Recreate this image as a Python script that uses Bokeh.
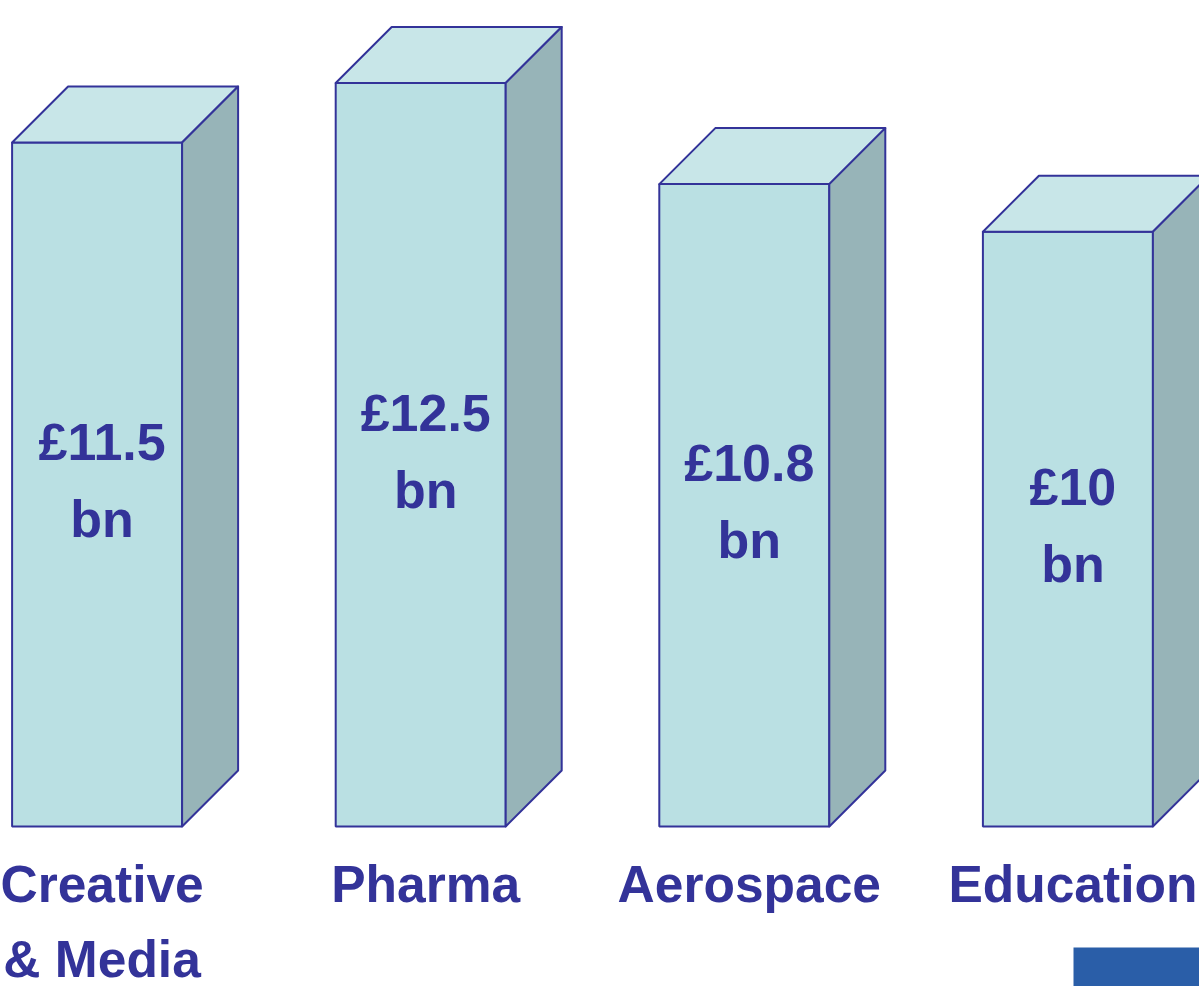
from bokeh.plotting import figure
from bokeh.models import Range1d, ColumnDataSource
from bokeh.core.properties import value
from bokeh.embed import file_html
from bokeh.resources import INLINE

# ---- data ----
categories = ["Creative\n& Media", "Pharma", "Aerospace", "Education"]
values = [11.5, 12.5, 10.8, 10.0]
value_labels = ["£11.5", "£12.5", "£10.8", "£10"]
unit_label = "bn"

# ---- layout / style ----
W, H = 1199, 986
PX_X = 323.6          # pixels per category step
PX_Y = 59.48          # pixels per £bn
X0_PX = 96.6          # pixel of category 0 centre inside the figure
BASE_PX = 826         # pixel of the value-0 baseline inside the figure
TXT_SHIFT = 19        # compensation for text baseline rendering

x_range = Range1d(-X0_PX / PX_X, (W - X0_PX) / PX_X)
y_range = Range1d((BASE_PX - H) / PX_Y, BASE_PX / PX_Y)

HALF_W = 85 / PX_X
DX = 56 / PX_X
DY = 56 / PX_Y

FRONT = "#BAE0E3"
TOP = "#C8E6E8"
SIDE = "#97B4B8"
EDGE = "#333399"
TEXT = "#333399"
FONT = value("Liberation Sans")

p = figure(width=W, height=H, x_range=x_range, y_range=y_range,
           x_axis_type=None, y_axis_type=None, toolbar_location=None,
           output_backend="svg", min_border=0, outline_line_color=None,
           background_fill_color="white", border_fill_color="white")
p.grid.visible = False

idx = list(range(len(values)))
left = [i - HALF_W for i in idx]
right = [i + HALF_W for i in idx]

front = ColumnDataSource(dict(left=left, right=right, bottom=[0] * len(values), top=values))
p.quad(left="left", right="right", bottom="bottom", top="top", source=front,
       fill_color=FRONT, line_color=EDGE, line_width=2)

top_xs = [[l, r, r + DX, l + DX] for l, r in zip(left, right)]
top_ys = [[v, v, v + DY, v + DY] for v in values]
p.patches(top_xs, top_ys, fill_color=TOP, line_color=EDGE, line_width=2, line_join="round")

side_xs = [[r, r + DX, r + DX, r] for r in right]
side_ys = [[0, DY, v + DY, v] for v in values]
p.patches(side_xs, side_ys, fill_color=SIDE, line_color=EDGE, line_width=2, line_join="round")

text_kw = dict(text_font=FONT, text_font_style="bold",
               text_color=TEXT, text_align="center", text_baseline="alphabetic")

# value labels inside the front faces
tx = [i + 5 / PX_X for i in idx]
p.text(x=tx, y=[v / 2 + (23 + TXT_SHIFT) / PX_Y for v in values], text=value_labels,
       text_font_size="52px", **text_kw)
p.text(x=tx, y=[v / 2 - (54 - TXT_SHIFT) / PX_Y for v in values], text=[unit_label] * len(values),
       text_font_size="52px", **text_kw)

# category labels (split into lines)
cat_x = [i + 5 / PX_X for i in idx]
line1 = [c.split("\n")[0] for c in categories]
line2 = [c.split("\n")[1] if "\n" in c else "" for c in categories]
p.text(x=cat_x, y=[-(76 - TXT_SHIFT) / PX_Y] * len(categories), text=line1,
       text_font_size="51.5px", **text_kw)
p.text(x=cat_x, y=[-(151 - TXT_SHIFT) / PX_Y] * len(categories), text=line2,
       text_font_size="51.5px", **text_kw)

# slide decoration bottom-right
p.quad(left=[(1073 - X0_PX) / PX_X], right=[x_range.end + 1],
       bottom=[y_range.start - 1], top=[(BASE_PX - 947) / PX_Y],
       fill_color="#2A5EA8", line_color=None)

open("out.html", "w").write(file_html(p, INLINE))
